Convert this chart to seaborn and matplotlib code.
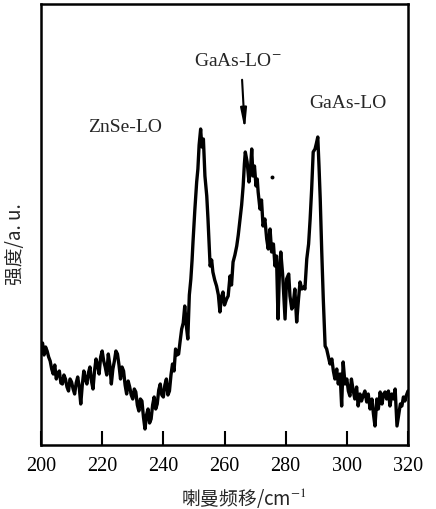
import numpy as np
import pandas as pd
import matplotlib
matplotlib.use("Agg")
import matplotlib.pyplot as plt
import seaborn as sns

# Raman shift (cm^-1) and intensity (a.u.)
shift_left = [200, 200.5, 201, 201.5, 202, 202.5, 203, 203.5, 204, 204.5, 205, 205.5, 206, 206.5,
              207, 207.5, 208, 208.5, 209, 209.5, 210, 210.5, 211, 211.5, 212, 212.5, 213, 213.5,
              214, 214.5, 215, 215.5, 216, 216.5, 217, 217.5, 218, 218.5, 219, 219.5, 220, 220.5,
              221, 221.5, 222, 222.5, 223, 223.5, 224, 224.5, 225, 225.5, 226, 226.5, 227, 227.5,
              228, 228.5, 229, 229.5, 230, 230.5, 231, 231.5, 232, 232.5, 233, 233.5, 234, 234.5,
              235, 235.5, 236, 236.5, 237, 237.5, 238, 238.5, 239, 239.5, 240, 240.5, 241, 241.5,
              242, 242.5, 243, 243.5, 244, 244.5, 245, 245.5, 246, 246.5, 247, 247.5]
inten_left = [96, 102, 90, 98, 94, 88, 84, 76, 71, 80, 66, 72, 74, 62,
              61, 70, 66, 58, 54, 66, 63, 56, 51, 62, 68, 58, 41, 60,
              74, 66, 61, 72, 78, 64, 56, 74, 86, 80, 71, 88, 94, 84,
              78, 70, 91, 80, 61, 76, 84, 94, 91, 80, 66, 78, 74, 60,
              51, 64, 58, 50, 46, 56, 53, 40, 34, 46, 44, 28, 16, 30,
              36, 22, 26, 40, 48, 36, 41, 55, 61, 50, 48, 60, 66, 50,
              54, 70, 81, 74, 96, 90, 91, 104, 116, 122, 139, 120]

shift_peaks = [248, 248.5, 249, 249.4, 249.7, 250.3, 250.9, 251.3, 251.7, 252.2, 252.6, 253.1,
               253.6, 254.2, 254.6, 255, 255.3, 255.8, 256.2, 256.8, 257.4, 258, 258.5, 259,
               259.5, 260, 260.7, 261.2, 261.8, 262.3, 262.8, 263.4, 264, 264.5, 265.1, 265.6,
               266.1, 266.5, 266.8, 267.4, 268, 268.5, 268.9, 269.3, 269.8, 270.3, 270.7, 271,
               271.6, 272.1, 272.6, 273.2, 273.8, 274.3, 274.9, 275.4, 276, 276.5, 277, 277.5,
               278, 278.4, 279, 279.8, 280.3, 281, 281.4, 282, 282.4, 283, 283.6, 284.2,
               284.7, 285.3, 286, 286.3, 286.9, 287.5, 288, 288.5, 289, 289.6, 290, 290.5,
               290.9, 291.3, 291.8, 292.3]
inten_peaks = [106, 150, 166, 185, 203, 235, 263, 276, 300, 316, 298, 306,
               269, 249, 226, 200, 179, 185, 173, 165, 159, 150, 133, 148,
               153, 140, 146, 149, 169, 160, 183, 190, 199, 210, 226, 240,
               259, 281, 293, 283, 263, 276, 296, 269, 279, 259, 266, 253,
               236, 245, 219, 226, 206, 196, 216, 193, 201, 179, 189, 126,
               176, 193, 171, 126, 166, 171, 149, 136, 139, 156, 123, 146,
               163, 156, 158, 156, 186, 201, 226, 256, 293, 296, 301, 308,
               279, 246, 193, 146]

shift_right = [292.9, 293.4, 293.9, 294.5, 295.1, 295.6, 296.1, 296.7, 297.2, 297.8, 298.3, 298.8,
               299.4, 300, 300.5, 301, 301.5, 302, 302.6, 303.2, 303.7, 304.3, 304.8, 305.3,
               305.9, 306.5, 307, 307.6, 308.2, 308.7, 309.2, 309.8, 310.3, 310.9, 311.5, 312,
               312.5, 313, 313.6, 314.1, 314.7, 315.3, 315.8, 316.4, 317, 317.5, 318, 318.5,
               319, 319.4, 320]
inten_right = [99, 96, 89, 81, 86, 74, 66, 76, 61, 71, 39, 83,
               61, 66, 54, 49, 66, 56, 46, 58, 39, 51, 44, 49,
               54, 43, 51, 36, 46, 31, 19, 46, 36, 53, 41, 51,
               53, 46, 54, 39, 51, 46, 56, 19, 31, 41, 39, 48,
               44, 49, 54]

# small stray speck visible in the reference
speck_x = [275.5]
speck_y = [268]

x_ticks = [200, 220, 240, 260, 280, 300, 320]
peak_labels = ["ZnSe-LO", "GaAs-LO$^{-}$", "GaAs-LO"]

df = pd.DataFrame({
    "shift": shift_left + shift_peaks + shift_right,
    "intensity": inten_left + inten_peaks + inten_right,
})

sns.set_theme(style="ticks")
plt.rcParams["font.family"] = ["Liberation Serif", "DejaVu Serif"]
plt.rcParams["mathtext.fontset"] = "stix"

W, H = 436, 510
fig = plt.figure(figsize=(W / 100, H / 100), dpi=100)
fig.patch.set_facecolor("white")
ax = fig.add_axes([41 / W, 1 - 446 / H, (408 - 41) / W, (446 - 5) / H])
ax.set_facecolor("white")

sns.lineplot(data=df, x="shift", y="intensity", ax=ax, color="black",
             linewidth=2.4, estimator=None, sort=False)
sns.scatterplot(x=speck_x, y=speck_y, ax=ax, color="black", s=8, marker="o",
                edgecolor="black", linewidth=0)

ax.set_xlim(200, 320)
ax.set_ylim(0, 441)
ax.set_xticks(x_ticks)
ax.set_xticklabels([str(t) for t in x_ticks], fontsize=14.5)
ax.set_yticks([])
ax.tick_params(axis="x", direction="in", length=10, width=1.5, pad=8, colors="black")
for s in ax.spines.values():
    s.set_visible(True)
    s.set_linewidth(1.8)
    s.set_color("black")
ax.set_xlabel("")
ax.set_ylabel("")

# peak annotations
ax.text(227.5, 319, peak_labels[0], ha="center", va="center", fontsize=14)
ax.text(264.4, 384, peak_labels[1], ha="center", va="center", fontsize=14)
ax.text(300.5, 343, peak_labels[2], ha="center", va="center", fontsize=14)
ax.annotate("", xy=(266.7, 312), xytext=(265.7, 368),
            arrowprops=dict(arrowstyle="-|>,head_length=1.0,head_width=0.15",
                            color="black", lw=1.5))

cjk = ["Noto Sans CJK SC", "DejaVu Sans"]
fig.text(244 / W, 1 - 498 / H, "喇曼频移/cm$^{-1}$", ha="center", va="center",
         fontsize=13.5, family=cjk)
fig.text(15 / W, 1 - 244 / H, "强度/a. u.", ha="center", va="center",
         fontsize=13.5, rotation=90, family=cjk)

fig.savefig("out.png", dpi=100, facecolor="white")
